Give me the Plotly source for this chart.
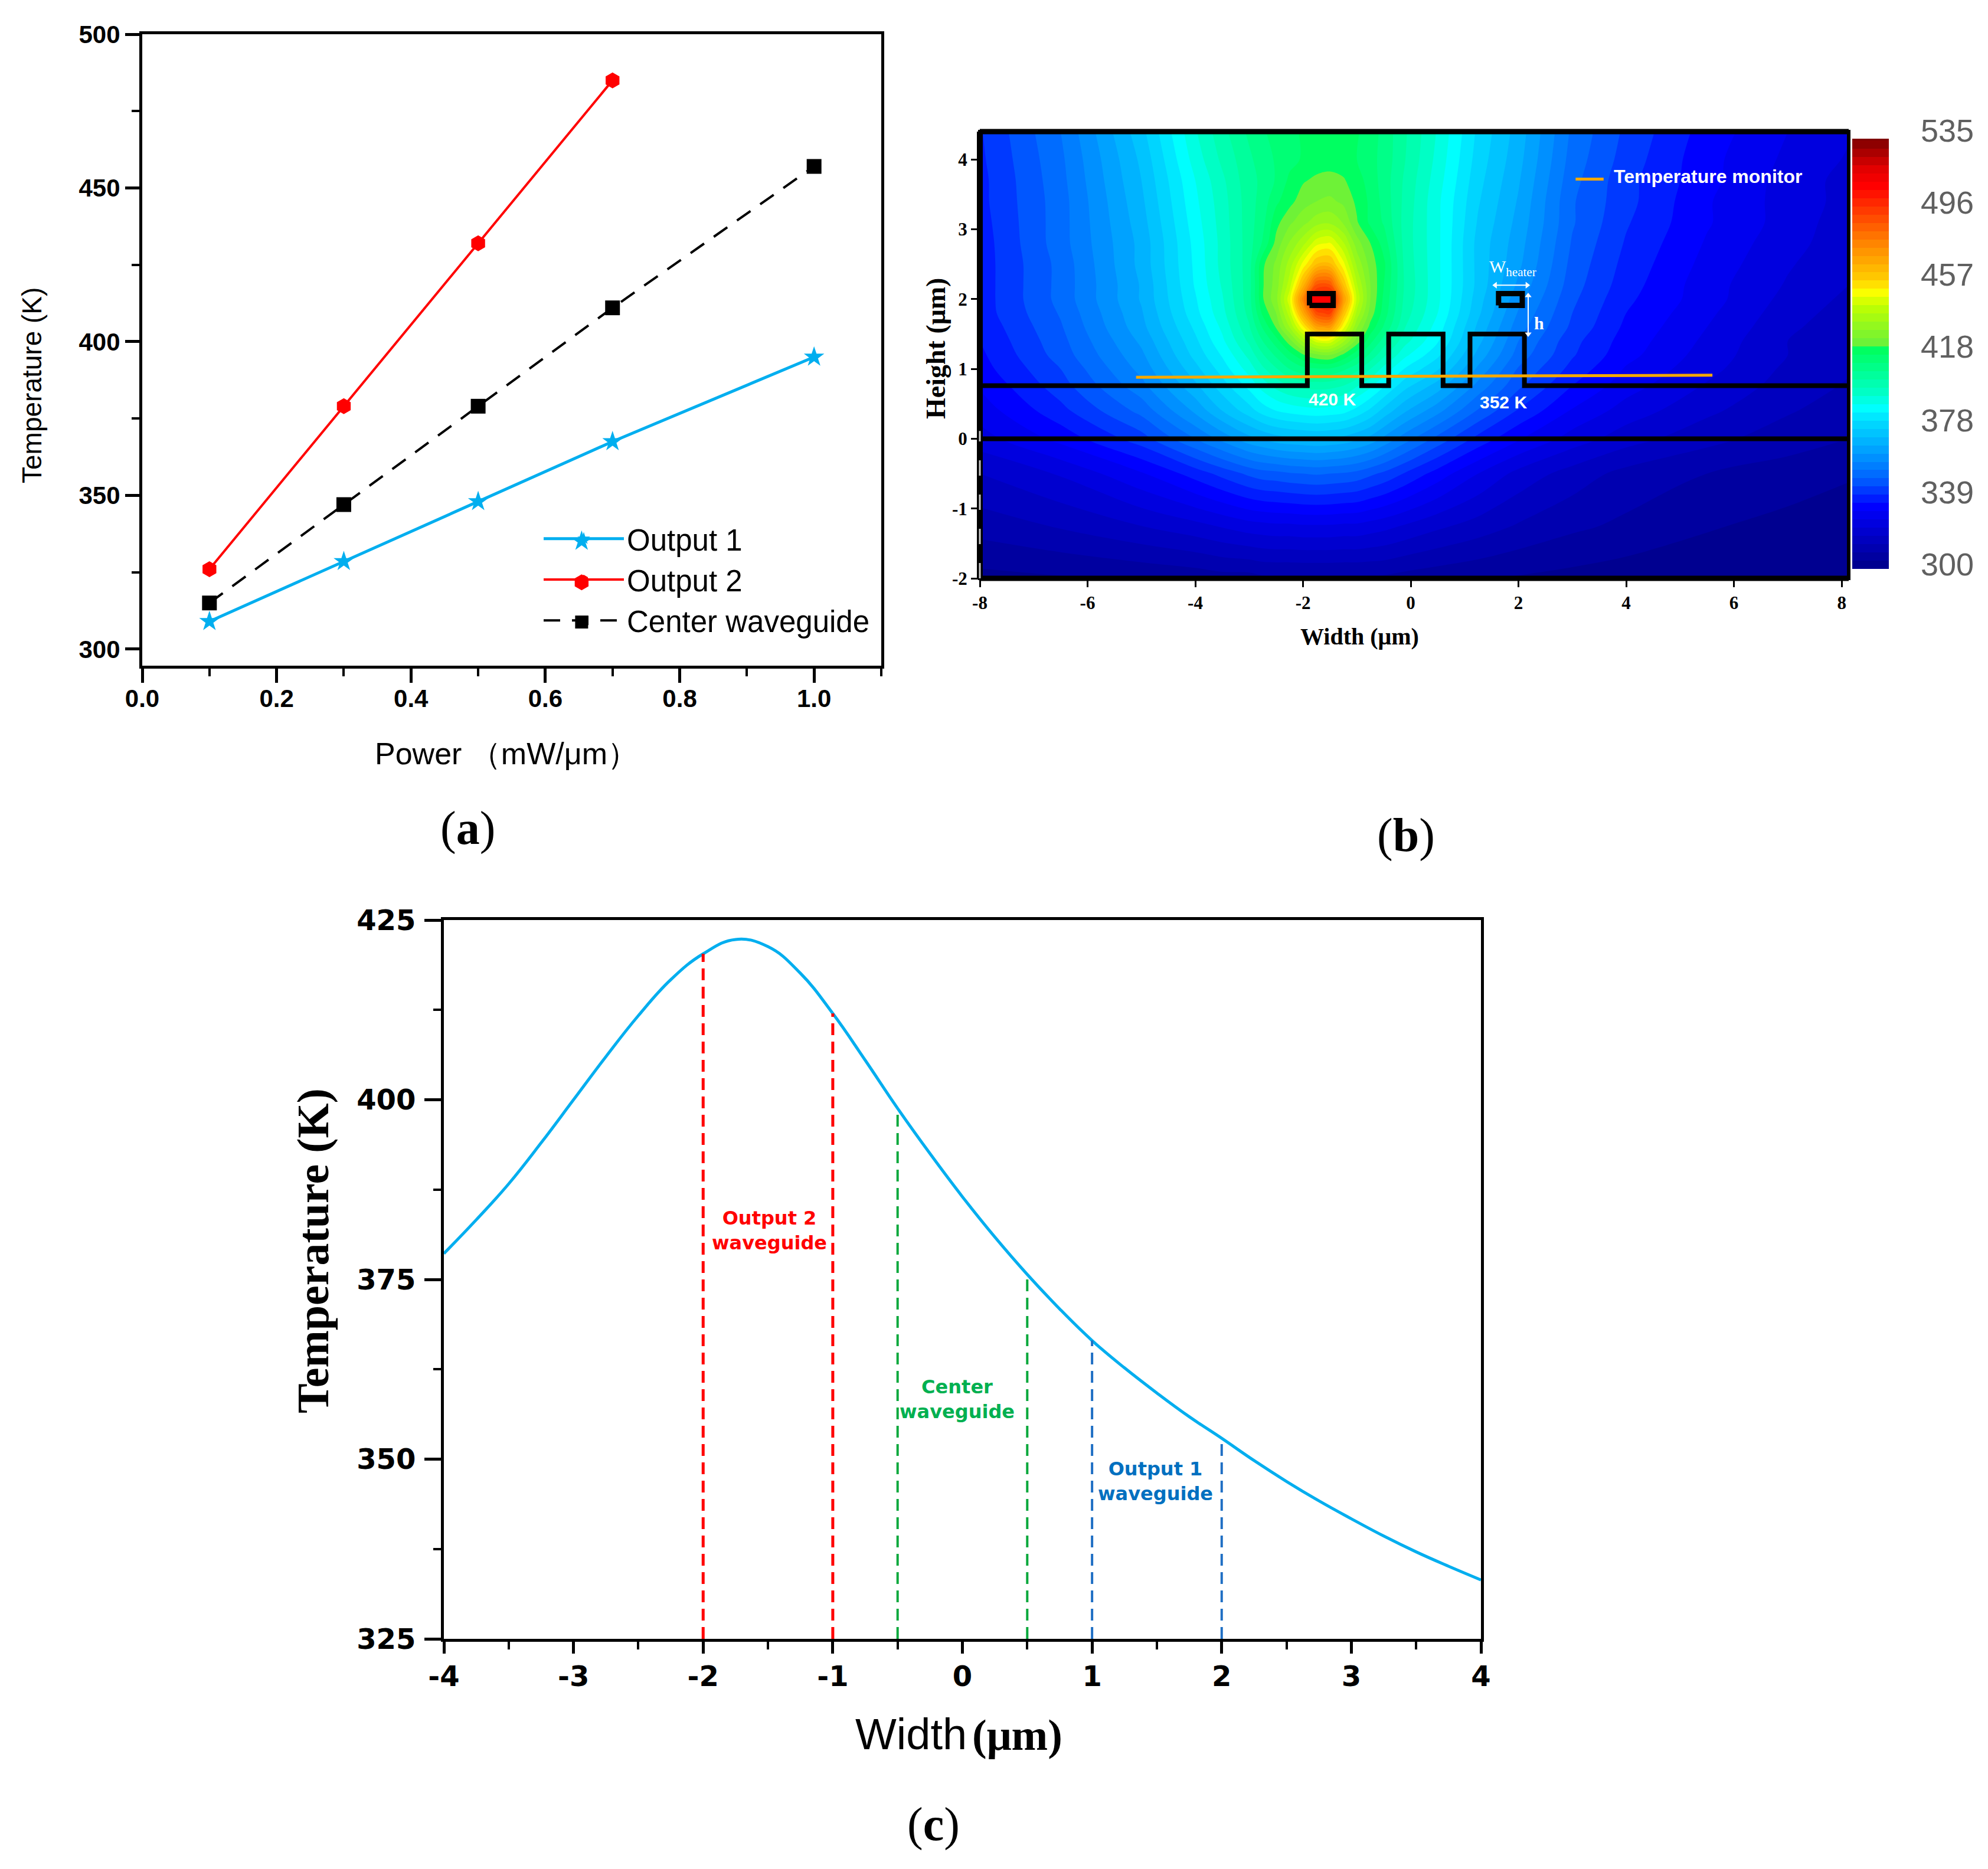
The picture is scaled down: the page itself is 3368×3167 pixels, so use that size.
"""Three panel figure: temperature vs power, simulated heat map, temperature profile."""
import plotly.graph_objects as go

W, H = 3368, 3167
SANS = "Liberation Sans"
SERIF = "Liberation Serif"
WIDE = "DejaVu Sans"
BLUE = "#00aeef"
RED = "#ff0000"
GREEN = "#0aa83c"
DBLUE = "#1f6fc4"
ORANGE = "#f5a800"

# ── panel (a) ────────────────────────────────────────────────────────────────
power = [0.1, 0.3, 0.5, 0.7, 1.0]
output1 = [309, 328.5, 348, 367.5, 395]
power2 = [0.1, 0.3, 0.5, 0.7]
output2 = [326, 379, 432, 485]
center = [315, 347, 379, 411, 457]
legend_key_x = [0.654]
legend_key_t = [335.1, 321.7, 308.8]

# ── panel (b) ────────────────────────────────────────────────────────────────
field_x = [-8, -6.5, -5, -4, -3.5, -3, -2.75, -2.5, -2.25, -2, -1.75, -1.5, -1.25, -1, -0.75,
           -0.5, -0.1, 0.5, 1.25, 2, 3, 4, 5.5, 7, 8.13]
field_y = [-2, -1.25, -0.5, 0, 0.4, 0.76, 1, 1.2, 1.4, 1.6, 1.8, 2, 2.2, 2.5, 2.8, 3.1, 3.4, 3.7, 4, 4.4]
field_t = [
    [303, 304, 305, 306, 307, 307, 308, 308, 308, 308, 308, 308, 308, 308, 308, 308, 307, 306, 305, 304, 303, 302, 301, 300, 300],
    [311, 314, 318, 321, 323, 325, 325.5, 326, 326, 326.5, 326.5, 326.5, 326, 326, 325, 324, 322, 319, 316, 313, 310, 308, 305, 303, 302],
    [318, 323, 331, 338, 342, 346, 347.5, 348, 349, 349.5, 350, 349.5, 349, 348, 346, 344, 340, 334, 327, 321, 316, 312, 309, 307, 305],
    [325, 333, 343, 354, 360, 366, 368, 370, 371, 371.5, 372, 371.5, 370.5, 368.5, 366, 362, 356, 348, 339, 332, 325, 320, 315, 311, 309],
    [329, 339, 351, 364, 372, 379, 383, 385.5, 387, 388, 388.5, 388, 387, 384, 380, 375, 368, 360, 349, 340, 331, 325, 319, 314, 311],
    [332, 343, 357, 371, 379, 387, 392, 396, 399, 400.5, 401, 400.5, 399, 395, 391, 386, 378, 370, 357, 346, 336, 329, 322, 316, 313],
    [334, 345, 360, 375, 383, 392, 398, 403, 408, 411, 412, 412, 409, 405, 399, 393, 385, 377, 362, 349, 339, 331, 324, 317, 314],
    [335, 347, 362, 378, 386, 396, 403, 409, 415, 421, 425, 426, 420.5, 414, 407, 400, 391, 382, 366, 352, 341, 333, 325, 318, 314],
    [336, 348, 364, 380, 389, 400, 408, 415, 424, 436, 446, 447, 436, 424, 414, 406, 396, 386, 369, 354, 342, 334, 326, 318, 315],
    [337, 349, 366, 382, 391, 403, 413, 422, 435, 452, 470, 472, 450, 431, 420, 412, 399, 388, 371, 356, 344, 335, 327, 319, 315],
    [338, 350, 367, 384, 393, 405, 418, 426, 442, 468, 492, 495, 462, 438, 424, 415, 401, 390, 373, 358, 345, 336, 328, 320, 316],
    [338, 351, 368, 385, 394, 406, 421, 429, 447, 478, 505, 508, 472, 443, 426, 416, 402, 391, 374, 360, 346, 337, 329, 321, 317],
    [338, 351, 368, 386, 395, 406, 421, 428, 442, 465, 490, 490, 462, 440, 426, 417, 402.5, 391, 375, 362, 347, 338, 329, 322, 318],
    [338, 351, 369, 386.5, 396, 406, 420.5, 427, 437, 450, 462, 463, 450, 434, 424, 418, 402, 391, 375, 364, 348, 339, 330, 323, 319],
    [338, 352, 369, 387, 396, 406, 413, 423, 431, 438, 447, 449, 440, 428, 421.5, 415, 401.5, 391, 375, 365, 349, 340, 331, 324, 320],
    [338.5, 352, 370, 388, 396.5, 406, 411, 420, 425, 429, 433, 434, 430, 422, 416, 412, 401.5, 391, 376, 366, 350, 341, 332, 325, 320],
    [339, 352, 371, 389, 397, 406, 410, 416, 420, 424, 426, 427, 425, 420.5, 416, 411, 402, 391, 377, 367, 350, 342, 332, 325, 321],
    [339, 352.5, 372, 390, 398, 406.5, 409, 413, 418, 421, 422.5, 423, 422, 419, 415, 410.5, 402.5, 392, 378, 368, 351, 342, 333, 325, 321],
    [339.5, 353, 373, 392, 400, 407, 410.5, 413, 415.5, 417.5, 419, 419.5, 419, 417, 414, 411, 403.5, 393, 379, 369, 352, 343, 333, 326, 322],
    [340, 354, 375, 394, 402, 409, 412, 414, 416, 417.5, 418.5, 419, 419, 417.5, 415, 411, 404, 394, 380, 370, 353, 344, 334, 327, 323],
]
cbar_ticks = [300, 339, 378, 418, 457, 496, 535]
field_ticks_x = [-8, -6, -4, -2, 0, 2, 4, 6, 8]
field_labels_x = ["-8", "-6", "-4", "-2", "0", "2", "4", "6", "8"]
field_ticks_y = [-2, -1, 0, 1, 2, 3, 4]
field_labels_y = ["-2", "-1", "0", "1", "2", "3", "4"]
waveguide_x = [-8, -1.92, -1.92, -0.91, -0.91, -0.41, -0.41, 0.6, 0.6, 1.1, 1.1, 2.11, 2.11, 8.13]
waveguide_y = [0.76, 0.76, 1.5, 1.5, 0.76, 0.76, 1.5, 1.5, 0.76, 0.76, 1.5, 1.5, 0.76, 0.76]
substrate_x = [-8, 8.13]
substrate_y = [0, 0]
heater1_x = [-1.88, -1.44, -1.44, -1.88, -1.88]
heater2_x = [1.63, 2.07, 2.07, 1.63, 1.63]
heater_y = [1.91, 1.91, 2.08, 2.08, 1.91]
monitor_x = [-5.1, 5.6]
monitor_y = [0.88, 0.91]
monitor_key_x = [3.06, 3.58]
monitor_key_y = [3.72, 3.72]
wheater_x = [1.57, 2.16]
wheater_y = [2.2, 2.2]
h_x = [2.18, 2.18]
h_y = [1.5, 2.05]

# ── panel (c) ────────────────────────────────────────────────────────────────
width = [-4, -3.75, -3.5, -3.25, -3, -2.75, -2.5, -2.25, -2, -1.75, -1.5, -1.25, -1, -0.75, -0.5, -0.25,
         0, 0.25, 0.5, 0.75, 1, 1.25, 1.5, 1.75, 2, 2.25, 2.5, 2.75, 3, 3.25, 3.5, 3.75, 4]
temp = [378.6, 383.3, 388.3, 394, 400, 406, 411.7, 416.7, 420.3, 422.3, 421.3, 417.6, 412, 405.5, 398.8, 392.5,
        386.5, 380.9, 375.7, 370.9, 366.5, 362.7, 359.2, 355.9, 352.9, 349.8, 346.9, 344.2, 341.7, 339.3, 337.1, 335.1, 333.2]
guide_x = [-2, -1, -0.5, 0.5, 1, 2]
guide_top = [420.3, 412, 398.8, 375.7, 366.5, 352.9]
profile_ticks_x = [-4, -3, -2, -1, 0, 1, 2, 3, 4]
profile_labels_x = ["-4", "-3", "-2", "-1", "0", "1", "2", "3", "4"]


def px_x(p):
    return p / W


def px_y(p):
    return 1 - p / H


def note(text, x, y, size, color="black", family=SANS, xref="paper", yref="paper", **kw):
    fig.add_annotation(text=text, x=x, y=y, xref=xref, yref=yref, showarrow=False,
                       xanchor=kw.pop("xanchor", "center"), yanchor="middle",
                       font=dict(size=size, color=color, family=family), **kw)


fig = go.Figure()

# panel (a)
fig.add_trace(go.Scatter(x=power, y=output1, name="Output 1", mode="lines+markers",
                         line=dict(color=BLUE, width=5), marker=dict(symbol="star", size=26, color=BLUE),
                         xaxis="x", yaxis="y"))
fig.add_trace(go.Scatter(x=power2, y=output2, name="Output 2", mode="lines+markers",
                         line=dict(color=RED, width=4), marker=dict(symbol="hexagon", size=27, color=RED),
                         xaxis="x", yaxis="y"))
fig.add_trace(go.Scatter(x=power, y=center, name="Center waveguide", mode="lines+markers",
                         line=dict(color="black", width=4, dash="28px,20px"),
                         marker=dict(symbol="square", size=25, color="black"),
                         xaxis="x", yaxis="y"))
# the native legend clamps marker size, so the full size keys sit on top of it
for key_t, symbol, size, color in zip(legend_key_t, ["star", "hexagon", "square"], [26, 27, 22], [BLUE, RED, "black"]):
    fig.add_trace(go.Scatter(x=legend_key_x, y=[key_t], mode="markers", showlegend=False, hoverinfo="skip",
                             marker=dict(symbol=symbol, size=size, color=color), xaxis="x", yaxis="y"))

# panel (b)
colorscale = [[(t - 300) / 235, c] for t, c in [
    (300, "#000088"), (316, "#0000c0"), (334, "#0000ff"), (349, "#0060ff"), (365, "#00a0ff"),
    (382, "#00e0ff"), (388, "#00ffff"), (398, "#00ffc0"), (420, "#00ff60"), (421, "#60f040"),
    (444, "#c0ff00"), (452, "#ffff00"), (458, "#ffd000"), (480, "#ff8000"), (499, "#ff3000"),
    (510, "#ff0000"), (520, "#e00000"), (535, "#800000"),
]]
fig.add_trace(go.Contour(
    x=field_x, y=field_y, z=field_t, xaxis="x2", yaxis="y2", showlegend=False,
    colorscale=colorscale, zmin=300, zmax=535, hoverinfo="skip",
    contours=dict(coloring="fill", start=300, end=535, size=4.5, showlines=False),
    line=dict(width=0, smoothing=1),
    colorbar=dict(
        x=px_x(3138), xanchor="left", y=px_y(235), yanchor="top", lenmode="pixels", len=729,
        thickness=62, thicknessmode="pixels", outlinewidth=0, xpad=0, ypad=0,
        ticks="", showticklabels=False,
    ),
))
for xs, ys, color, lw in [
    (waveguide_x, waveguide_y, "black", 8),
    (substrate_x, substrate_y, "black", 8),
    (monitor_x, monitor_y, ORANGE, 5),
    (monitor_key_x, monitor_key_y, ORANGE, 5),
]:
    fig.add_trace(go.Scatter(x=xs, y=ys, mode="lines", line=dict(color=color, width=lw),
                             xaxis="x2", yaxis="y2", showlegend=False, hoverinfo="skip"))
fig.add_trace(go.Scatter(x=heater1_x, y=heater_y, mode="lines", fill="toself", fillcolor="#ff0000",
                         line=dict(color="black", width=9), xaxis="x2", yaxis="y2", showlegend=False, hoverinfo="skip"))
fig.add_trace(go.Scatter(x=heater2_x, y=heater_y, mode="lines",
                         line=dict(color="black", width=9), xaxis="x2", yaxis="y2", showlegend=False, hoverinfo="skip"))
for xs, ys, symbols in [(wheater_x, wheater_y, ["triangle-left", "triangle-right"]),
                        (h_x, h_y, ["triangle-down", "triangle-up"])]:
    fig.add_trace(go.Scatter(x=xs, y=ys, mode="lines+markers", line=dict(color="white", width=2),
                             marker=dict(symbol=symbols, size=10, color="white"),
                             xaxis="x2", yaxis="y2", showlegend=False, hoverinfo="skip"))

# panel (c)
fig.add_trace(go.Scatter(x=width, y=temp, mode="lines", line=dict(color=BLUE, width=5, shape="spline", smoothing=1.2),
                         xaxis="x3", yaxis="y3", showlegend=False))
for gx, gt, color, lw in zip(guide_x, guide_top, [RED, RED, GREEN, GREEN, DBLUE, DBLUE], [5, 5, 4, 4, 4, 4]):
    fig.add_trace(go.Scatter(x=[gx, gx], y=[325, gt], mode="lines",
                             line=dict(color=color, width=lw, dash="20px,11px"),
                             xaxis="x3", yaxis="y3", showlegend=False))


def axis(domain, anchor, rng, tick_size, family=SANS, line=5, ticklen=24, **kw):
    return dict(domain=domain, anchor=anchor, range=rng, showgrid=False, zeroline=False,
                showline=True, linecolor="black", linewidth=line, mirror=True,
                ticks="outside", ticklen=ticklen, tickwidth=line, tickcolor="black",
                tickfont=dict(size=tick_size, color="black", family=family, weight="bold"),
                **kw)


def minor(step, start=0):
    return dict(dtick=step, tick0=start, ticks="outside", ticklen=13, tickwidth=4, tickcolor="black")


fig.update_layout(
    width=W, height=H, margin=dict(l=0, r=0, t=0, b=0, autoexpand=False), autosize=False,
    paper_bgcolor="white", plot_bgcolor="white",
    xaxis=axis([px_x(241), px_x(1493)], "y", [0, 1.1], 42, dtick=0.2, tickformat=".1f",
               ticklabelstandoff=-9, minor=minor(0.1)),
    yaxis=axis([px_y(1128), px_y(58)], "x", [294.6, 500], 42, dtick=50, tick0=300, minor=minor(25, 300)),
    xaxis2=axis([px_x(1660), px_x(3132)], "y2", [-8, 8.13], 31, family=SERIF, line=3, ticklen=12,
                tickmode="array", tickvals=field_ticks_x, ticktext=field_labels_x),
    yaxis2=axis([px_y(980), px_y(223)], "x2", [-2, 4.4], 31, family=SERIF, line=3, ticklen=12,
                tickmode="array", tickvals=field_ticks_y, ticktext=field_labels_y),
    xaxis3=axis([px_x(752), px_x(2509)], "y3", [-4, 4], 48, family=WIDE, ticklen=20, tickmode="array",
                tickvals=profile_ticks_x, ticktext=profile_labels_x, ticklabelstandoff=-3, minor=minor(0.5)),
    yaxis3=axis([px_y(2777), px_y(1559)], "x3", [325, 425], 48, family=WIDE, dtick=25, tick0=325,
                ticklen=28, ticklabelstandoff=5, minor=minor(12.5, 325)),
    legend=dict(x=px_x(916), xanchor="left", y=px_y(873), yanchor="top", bgcolor="rgba(0,0,0,0)",
                font=dict(size=51, color="black", family=SANS), itemwidth=136, tracegroupgap=0),
)

# borders of the heat map, heavier than the axis lines
fig.add_shape(type="line", xref="x2 domain", yref="y2 domain", x0=0, x1=1, y0=1, y1=1, line=dict(color="black", width=9))
fig.add_shape(type="line", xref="x2 domain", yref="y2 domain", x0=0, x1=1, y0=0, y1=0, line=dict(color="black", width=9))
fig.add_shape(type="line", xref="x2 domain", yref="y2 domain", x0=0, x1=0, y0=0, y1=1, line=dict(color="black", width=10))
fig.add_shape(type="line", xref="x2 domain", yref="y2 domain", x0=1, x1=1, y0=0, y1=1, line=dict(color="black", width=6))
fig.add_shape(type="line", xref="x2 domain", yref="y2 domain", x0=0, x1=0, y0=0, y1=0.33,
              line=dict(color="#c8c8c8", width=3, dash="26px,32px"))

# colour bar labels, sitting a little above their levels as in the picture
for tick in cbar_ticks:
    note(str(tick), px_x(3299), px_y(221 + (535 - tick) * 3.128), 54, "#606060")

# axis titles
note("Temperature (K)", px_x(54), px_y(653), 46, textangle=-90)
note("Power （mW/μm）", px_x(858), px_y(1277), 52)
note("<b>Height (μm)</b>", px_x(1585), px_y(591), 46, family=SERIF, textangle=-90)
note("<b>Width (μm)</b>", px_x(2303), px_y(1078), 40, family=SERIF)
note("<b>Temperature (K)</b>", px_x(530), px_y(2120), 76, family=SERIF, textangle=-90)
note("Width", px_x(1543), px_y(2938), 74)
note("<b>(μm)</b>", px_x(1723), px_y(2940), 74, family=SERIF)

# panel letters
note("(<b>a</b>)", px_x(792), px_y(1403), 80, family=SERIF)
note("(<b>b</b>)", px_x(2382), px_y(1416), 80, family=SERIF)
note("(<b>c</b>)", px_x(1581), px_y(3091), 80, family=SERIF)

# heat map labels
note("<b>Temperature monitor</b>", 3.75, 3.76, 32, "white", SANS, "x2", "y2", xanchor="left")
note("<b>420 K</b>", -1.46, 0.57, 30, "white", SANS, "x2", "y2")
note("<b>352 K</b>", 1.72, 0.52, 30, "white", SANS, "x2", "y2")
note("W<sub>heater</sub>", 1.9, 2.45, 30, "white", SERIF, "x2", "y2")
note("<b>h</b>", 2.38, 1.66, 30, "white", SERIF, "x2", "y2")

# waveguide labels on the profile
note("<b>Output 2<br>waveguide</b>", -1.49, 381.8, 32, RED, WIDE, "x3", "y3")
note("<b>Center<br>waveguide</b>", -0.04, 358.3, 32, "#00b050", WIDE, "x3", "y3")
note("<b>Output 1<br>waveguide</b>", 1.49, 346.9, 32, "#0070c0", WIDE, "x3", "y3")

fig.write_html("out.html", config={"displayModeBar": False}, post_script="document.body.style.margin='0';")
